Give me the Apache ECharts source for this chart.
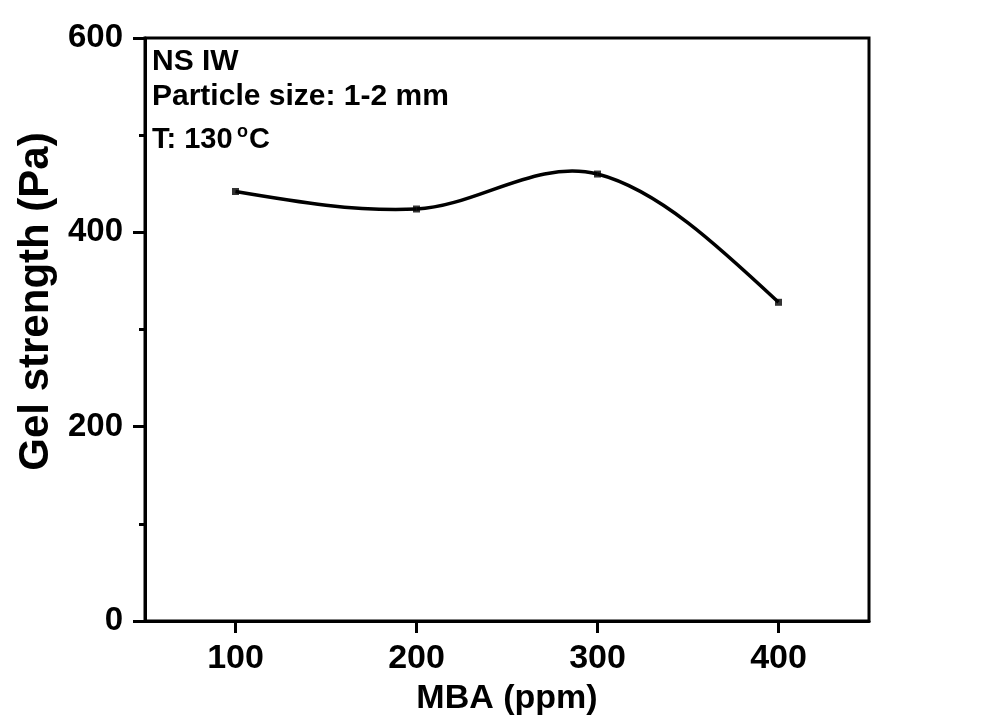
<!DOCTYPE html>
<html><head><meta charset="utf-8">
<script src="https://cdn.jsdelivr.net/npm/echarts@6/dist/echarts.min.js"></script>
<style>html,body{margin:0;padding:0;background:#fff}#c{width:998px;height:721px}</style>
</head><body><div id="c"></div>
<script>
const mba = [100, 200, 300, 400];
const gelStrength = [442, 424, 460, 328];
const xTicks = [100, 200, 300, 400];
const yTicks = [0, 200, 400, 600];

// Catmull-Rom tangents with natural ends (curve shape only; data are the points above)
function tangents(xs, ys) {
  const n = xs.length, d = new Array(n);
  for (let i = 1; i < n - 1; i++) d[i] = (ys[i + 1] - ys[i - 1]) / (xs[i + 1] - xs[i - 1]);
  const s0 = (ys[1] - ys[0]) / (xs[1] - xs[0]);
  const sn = (ys[n - 1] - ys[n - 2]) / (xs[n - 1] - xs[n - 2]);
  d[0] = 1.5 * s0 - 0.5 * d[1];
  d[n - 1] = 1.5 * sn - 0.5 * d[n - 2];
  return d;
}
const slopes = tangents(mba, gelStrength);

const chart = echarts.init(document.getElementById('c'));
const font = 'Arial, "Liberation Sans", sans-serif';
const tickStyle = {color: '#000', width: 3};
chart.setOption({
  animation: false,
  backgroundColor: '#fff',
  grid: {left: 145, right: 129, top: 38, bottom: 99, show: true, borderColor: '#000', borderWidth: 3},
  xAxis: {
    type: 'value', min: 50, max: 450,
    axisLine: {show: true, lineStyle: {color: '#000', width: 3}},
    axisTick: {show: true, length: 12, lineStyle: tickStyle, customValues: xTicks},
    axisLabel: {customValues: xTicks, color: '#000', fontSize: 34, fontWeight: 'bold', fontFamily: font, margin: 21},
    splitLine: {show: false},
    name: 'MBA (ppm)', nameLocation: 'middle', nameGap: 61,
    nameTextStyle: {color: '#000', fontSize: 34, fontWeight: 'bold', fontFamily: font}
  },
  yAxis: {
    type: 'value', min: 0, max: 600, interval: 200,
    axisLine: {show: true, lineStyle: {color: '#000', width: 3}},
    axisTick: {show: true, length: 12, lineStyle: tickStyle},
    minorTick: {show: true, splitNumber: 2, length: 6, lineStyle: tickStyle},
    axisLabel: {color: '#000', fontSize: 33, fontWeight: 'bold', fontFamily: font, margin: 22},
    splitLine: {show: false},
    name: 'Gel strength (Pa)', nameLocation: 'middle', nameGap: 88, nameRotate: 90,
    nameTextStyle: {color: '#000', fontSize: 42, fontWeight: 'bold', fontFamily: font, padding: [0, 0, 0, 56]}
  },
  graphic: [
    {type: 'text', x: 152, y: 47, style: {text: 'NS IW', font: 'bold 30px ' + font, fill: '#000'}},
    {type: 'text', x: 152, y: 82, style: {text: 'Particle size: 1-2 mm', font: 'bold 30px ' + font, fill: '#000'}},
    {type: 'text', x: 152, y: 125, style: {text: 'T: 130', font: 'bold 29px ' + font, fill: '#000'}},
    {type: 'text', x: 237, y: 123, style: {text: 'o', font: 'bold 18px ' + font, fill: '#000'}},
    {type: 'text', x: 249, y: 125, style: {text: 'C', font: 'bold 29px ' + font, fill: '#000'}}
  ],
  series: [{
    type: 'custom',
    data: mba.map((x, i) => [x, gelStrength[i]]),
    renderItem: function (params, api) {
      const i = params.dataIndex;
      if (i >= mba.length - 1) return null;
      const h = mba[i + 1] - mba[i];
      const p1 = api.coord([mba[i], gelStrength[i]]);
      const p2 = api.coord([mba[i + 1], gelStrength[i + 1]]);
      const c1 = api.coord([mba[i] + h / 3, gelStrength[i] + slopes[i] * h / 3]);
      const c2 = api.coord([mba[i + 1] - h / 3, gelStrength[i + 1] - slopes[i + 1] * h / 3]);
      return {
        type: 'bezierCurve',
        shape: {x1: p1[0], y1: p1[1], x2: p2[0], y2: p2[1], cpx1: c1[0], cpy1: c1[1], cpx2: c2[0], cpy2: c2[1]},
        style: {stroke: '#000', lineWidth: 3.5, fill: null}
      };
    },
    z: 2
  }, {
    type: 'scatter',
    data: mba.map((x, i) => [x, gelStrength[i]]),
    symbol: 'rect', symbolSize: 7,
    itemStyle: {color: '#000'},
    z: 3
  }]
});
</script></body></html>
